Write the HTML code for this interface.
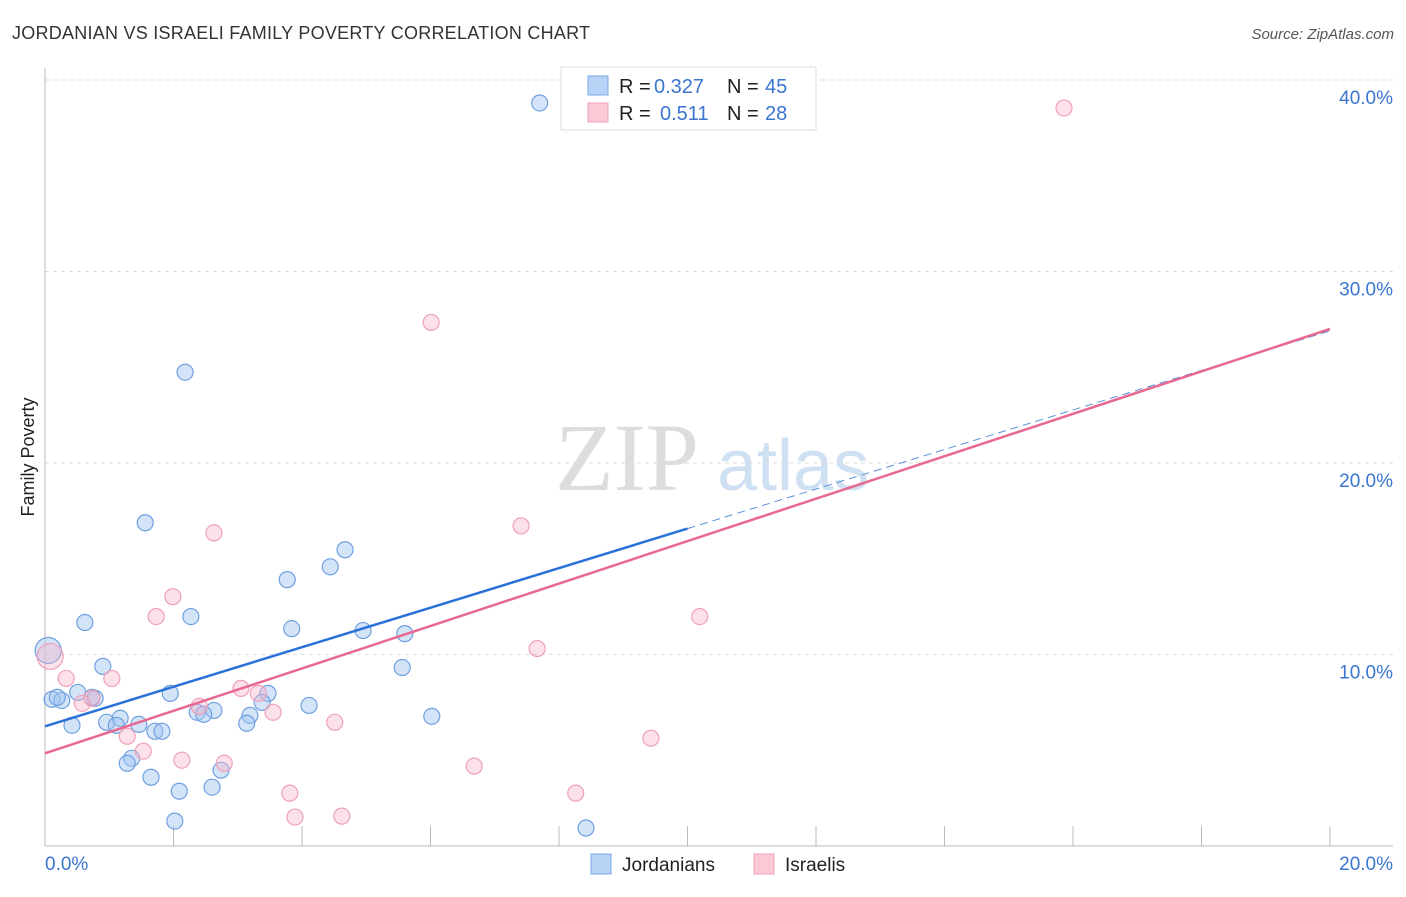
<!DOCTYPE html>
<html><head><meta charset="utf-8"><style>
body{margin:0;background:#fff;font-family:"Liberation Sans",sans-serif;}
svg text{font-family:"Liberation Sans",sans-serif;}
</style></head><body>
<svg id="c" width="1406" height="892">
<text x="12" y="39" font-size="18" fill="#333" textLength="578">JORDANIAN VS ISRAELI FAMILY POVERTY CORRELATION CHART</text>
<text x="1394" y="39" font-size="15" fill="#555" font-style="italic" text-anchor="end">Source: ZipAtlas.com</text>
<text x="34" y="457" font-size="18" fill="#222" transform="rotate(-90 34 457)" text-anchor="middle">Family Poverty</text>
<g><text x="555" y="490" font-size="96" fill="#ddd" style="font-family:'Liberation Serif',serif">ZIP</text><text x="717" y="490" font-size="72" fill="#cfe0f3">atlas</text></g>
<g id="grid"></g><g id="marks"></g>
<g>
<rect x="561" y="67" width="255" height="63" fill="#fff" stroke="#ddd"/>
<rect x="588" y="76" width="20" height="19" fill="#b8d3f5" stroke="#7aa8e8"/>
<rect x="588" y="103" width="20" height="19" fill="#fbc8d6" stroke="#f0a0b8"/>
<text x="619" y="93" font-size="20" fill="#222">R =</text>
<text x="654" y="93" font-size="20" fill="#3a75d0">0.327</text>
<text x="727" y="93" font-size="20" fill="#222">N =</text>
<text x="765" y="93" font-size="20" fill="#3a75d0">45</text>
<text x="619" y="120" font-size="20" fill="#222">R =</text>
<text x="660" y="120" font-size="20" fill="#3a75d0">0.511</text>
<text x="727" y="120" font-size="20" fill="#222">N =</text>
<text x="765" y="120" font-size="20" fill="#3a75d0">28</text>
</g>
<g>
<rect x="591" y="854" width="20" height="20" fill="#b8d3f5" stroke="#7aa8e8"/>
<text x="622" y="871" font-size="19" fill="#222">Jordanians</text>
<rect x="754" y="854" width="20" height="20" fill="#fbc8d6" stroke="#f0a0b8"/>
<text x="785" y="871" font-size="19" fill="#222">Israelis</text>
</g>
</svg>
<script>
const yTicks=[10,20,30,40];
const xTickLabels=["0.0%","20.0%"];
const blueX=[7.70,2.18,1.56,4.67,4.44,3.77,2.27,0.62,3.84,4.95,5.60,0.90,5.56,0.11,0.26,0.51,0.78,1.95,3.47,3.38,4.11,2.37,2.63,2.47,3.19,6.02,0.42,0.96,1.17,1.46,1.11,1.71,1.82,3.14,1.35,1.28,2.74,1.65,2.60,2.09,2.02,8.42,0.05,0.19,0.73];
const blueY=[38.80,24.74,16.88,15.47,14.58,13.91,11.98,11.67,11.35,11.25,11.09,9.38,9.32,7.66,7.60,8.02,7.71,7.97,7.97,7.50,7.34,6.98,7.08,6.88,6.82,6.77,6.30,6.46,6.67,6.35,6.30,5.99,5.99,6.41,4.58,4.32,3.96,3.59,3.07,2.86,1.30,0.94,10.21,7.76,7.76];
const pinkX=[15.86,6.01,7.41,2.63,1.99,1.73,10.19,7.66,0.08,0.33,1.04,3.05,3.32,0.73,2.40,0.58,3.55,4.51,1.28,1.53,2.13,2.79,6.68,9.43,3.81,8.26,3.89,4.62];
const pinkY=[38.54,27.34,16.72,16.35,13.02,11.98,11.98,10.31,9.90,8.75,8.75,8.23,7.97,7.71,7.29,7.45,6.98,6.46,5.73,4.95,4.48,4.32,4.17,5.63,2.76,2.76,1.51,1.56];
const blueTrend=[6.25,26.9];
const pinkTrend=[4.84,27.0];
const X=v=>45+v*64.25, Y=v=>846-v*19.15;
const NS="http://www.w3.org/2000/svg";
function mk(p,t,a){const e=document.createElementNS(NS,t);for(const k in a)e.setAttribute(k,a[k]);p.appendChild(e);return e;}
const g=document.getElementById('grid'), m=document.getElementById('marks');
yTicks.forEach(v=>{
 const l=mk(g,'line',{x1:45,x2:1393,y1:Y(v),y2:Y(v),stroke:'#ddd','stroke-dasharray':'4,4'});
 
 
 const t=mk(g,'text',{x:1393,y:Y(v)+24,'font-size':19,fill:'#3a75d0','text-anchor':'end'});t.textContent=v.toFixed(1)+'%';
 
 
});
const ax=mk(g,'line',{x1:45,x2:1393,y1:846,y2:846,stroke:'#bbb'});


const ay=mk(g,'line',{x1:45,x2:45,y1:68,y2:846,stroke:'#bbb'});


for(let i=0;i<=10;i++){const t=mk(g,'line',{x1:X(i*2),x2:X(i*2),y1:826,y2:846,stroke:'#bbb'});
 
 }
[[0,'start',45],[1,'end',1393]].forEach(([i,a,x])=>{const t=mk(g,'text',{x:x,y:870,'font-size':19,fill:'#3a75d0','text-anchor':a});t.textContent=xTickLabels[i];
 
 });
function dots(xs,ys,fill,stroke,name){xs.forEach((x,i)=>{
 const big=(x<0.1&&ys[i]>9.5);
 const c=mk(m,'circle',{cx:X(x),cy:Y(ys[i]),r:big?13:8,fill:fill,stroke:stroke,'stroke-width':1.2});
 
 });}
dots(blueX,blueY,'rgba(160,196,240,0.45)','#6fa0e0','jordanian-point');
dots(pinkX,pinkY,'rgba(248,180,200,0.4)','#eea0b8','israeli-point');
const bs=(blueTrend[1]-blueTrend[0])/20;
const b1=mk(m,'line',{x1:X(0),y1:Y(blueTrend[0]),x2:X(10),y2:Y(blueTrend[0]+bs*10),stroke:'#2a72d8','stroke-width':2.5});


const b2=mk(m,'line',{x1:X(10),y1:Y(blueTrend[0]+bs*10),x2:X(20),y2:Y(blueTrend[1]),stroke:'#5a90d8','stroke-width':1,'stroke-dasharray':'8,5'});


const p1=mk(m,'line',{x1:X(0),y1:Y(pinkTrend[0]),x2:X(20),y2:Y(pinkTrend[1]),stroke:'#e86890','stroke-width':2.5});


</script>
</body></html>
